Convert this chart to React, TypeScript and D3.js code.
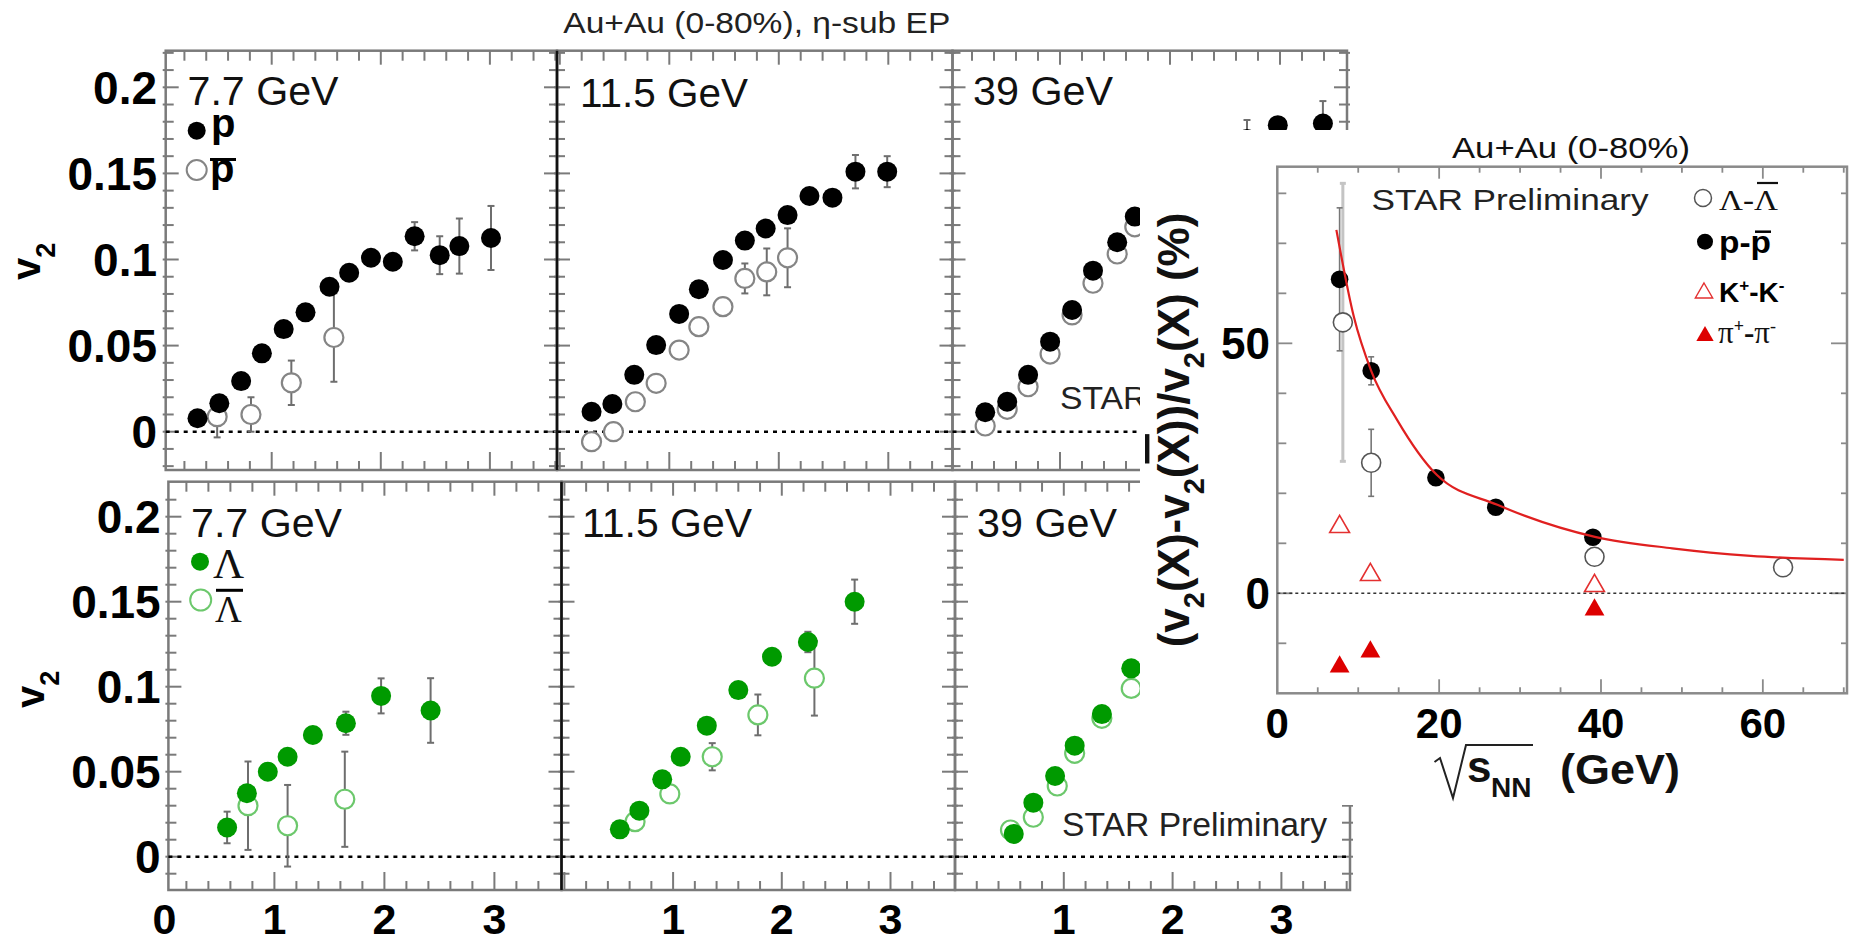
import React from "react";
import * as d3 from "d3";

// ---------------- DATA ----------------
// v2 vs pT, each entry [pT (GeV/c), v2, error]
const pFilled77 = [[0.32,0.0078,0.002],[0.52,0.0165,0.002],[0.72,0.0294,0.002],[0.91,0.0455,0.002],[1.11,0.0596,0.002],[1.31,0.0693,0.002],[1.53,0.0842,0.003],[1.71,0.0923,0.003],[1.91,0.101,0.003],[2.11,0.0987,0.003],[2.31,0.1135,0.0082],[2.54,0.1025,0.011],[2.72,0.1078,0.016],[3.01,0.1125,0.0186]];
const pOpen77 = [[0.5,0.0087,0.012],[0.81,0.0100,0.010],[1.18,0.0284,0.0129],[1.57,0.0547,0.0257]];
const pFilled115 = [[0.29,0.0116,0.002],[0.48,0.0161,0.002],[0.68,0.033,0.002],[0.88,0.0503,0.002],[1.09,0.0684,0.002],[1.27,0.0827,0.002],[1.49,0.0997,0.003],[1.69,0.111,0.003],[1.88,0.118,0.003],[2.08,0.1258,0.003],[2.28,0.1369,0.003],[2.49,0.1359,0.004],[2.7,0.151,0.0097],[2.99,0.151,0.009]];
const pOpen115 = [[0.29,-0.0058,0.004],[0.49,0.0,0.003],[0.69,0.0174,0.003],[0.88,0.0281,0.003],[1.09,0.0474,0.003],[1.27,0.061,0.004],[1.49,0.0726,0.004],[1.69,0.089,0.0087],[1.89,0.0928,0.0136],[2.08,0.101,0.0171]];
const pFilled39 = [[0.32,0.0113,0.002],[0.52,0.0174,0.002],[0.71,0.033,0.002],[0.91,0.0523,0.002],[1.11,0.0707,0.002],[1.3,0.0935,0.002],[1.52,0.11,0.003],[1.68,0.1249,0.003],[2.7,0.170,0.011],[2.98,0.178,0.003],[3.39,0.179,0.013]];
const pOpen39 = [[0.32,0.0033,0.002],[0.52,0.013,0.002],[0.71,0.0261,0.002],[0.91,0.0451,0.002],[1.11,0.0678,0.002],[1.3,0.0862,0.002],[1.52,0.1032,0.003],[1.68,0.119,0.003]];

const lamFilled77 = [[0.57,0.0172,0.0093],[0.75,0.0373,0.004],[0.94,0.05,0.003],[1.12,0.0588,0.003],[1.35,0.0716,0.003],[1.65,0.0785,0.0068],[1.97,0.0946,0.0103],[2.42,0.086,0.019]];
const lamOpen77 = [[0.76,0.030,0.026],[1.12,0.0182,0.024],[1.64,0.0338,0.028]];
const lamFilled115 = [[0.51,0.0161,0.002],[0.69,0.0271,0.003],[0.9,0.0455,0.003],[1.07,0.0588,0.003],[1.31,0.0771,0.003],[1.6,0.098,0.003],[1.91,0.1176,0.003],[2.24,0.1263,0.006],[2.67,0.150,0.013]];
const lamOpen115 = [[0.65,0.0206,0.004],[0.97,0.0369,0.004],[1.36,0.0588,0.008],[1.78,0.0834,0.012],[2.3,0.105,0.022]];
const lamFilled39 = [[0.54,0.0134,0.002],[0.72,0.0318,0.002],[0.92,0.0475,0.002],[1.1,0.0653,0.002],[1.35,0.0839,0.002],[1.62,0.1108,0.003]];
const lamOpen39 = [[0.51,0.0157,0.002],[0.72,0.0232,0.002],[0.94,0.0416,0.002],[1.1,0.0608,0.002],[1.35,0.0814,0.002],[1.62,0.099,0.003]];

const energyLabels = ["7.7 GeV", "11.5 GeV", "39 GeV"];
const v2TickLabels = [0, 0.05, 0.1, 0.15, 0.2];
const ptTickLabels = [0, 1, 2, 3];

// inset: relative difference (%) vs sqrt(sNN), [energy, value, error]
const diffLambda = [[8.1,54.2,27.8],[11.6,26.1,6.7],[39.2,7.3,1.5],[62.5,5.2,1.0]];
const diffProton = [[7.7,62.8,14.3],[11.6,44.5,2.8],[19.6,23.1,1.0],[27,17.2,1.0],[39,11.2,1.0]];
const diffKaon = [[7.7,13.3],[11.5,3.7],[39.2,1.5]];
const diffPion = [[7.7,-14.7],[11.5,-11.7],[39.2,-3.3]];
const fitCurve = [[7.3,72.7],[9.46,55.3],[11.6,44.5],[14.8,34.7],[19.7,23.7],[27.2,17.7],[39.25,11.3],[48.8,9.0],[58.5,7.5],[70,6.7]];
const insetXTicks = [0, 20, 40, 60];
const insetYTicks = [0, 50];

// ---------------- LAYOUT ----------------
const SANS = "'Liberation Sans', Arial, Helvetica, sans-serif";
const SERIF = "'Liberation Serif', 'Times New Roman', serif";
const FRAME = "#7a7a7a";
const ERR = "#6e6e6e";

const rows = [
  { T: 50.7, B: 470, y0: 431.7, ky: 1722, tickEnd: 157, labelBase: [105, 106.5, 105], titleY: 280, titleX: 40 },
  { T: 481.7, B: 890, y0: 856.7, ky: 1700, tickEnd: 160.7, labelBase: [536.7, 536.7, 536.7], titleY: 708, titleX: 44 },
];
const panelsX = [
  [ { x0: 162.6, k: 109.1, L: 165.7, R: 557, lx: 187.5, lw: 151 }, { x0: 559.8, k: 109.5, L: 557, R: 952.5, lx: 580, lw: 168 }, { x0: 950, k: 110, L: 952.5, R: 1347, lx: 973, lw: 140 } ],
  [ { x0: 164.4, k: 110, L: 168.4, R: 561.5, lx: 191, lw: 151 }, { x0: 564.4, k: 108.7, L: 561.5, R: 955, lx: 582, lw: 170 }, { x0: 955, k: 108.8, L: 955, R: 1350, lx: 977, lw: 140 } ],
];

function ErrBar({ x, y1, y2, color = ERR, w = 2, cap = 3.5 }: any) {
  return (
    <g stroke={color} strokeWidth={w}>
      <line x1={x} x2={x} y1={y1} y2={y2} />
      <line x1={x - cap} x2={x + cap} y1={y1} y2={y1} />
      <line x1={x - cap} x2={x + cap} y1={y2} y2={y2} />
    </g>
  );
}

function Panel({ row, col, filled, open, species }: any) {
  const r = rows[row];
  const p = panelsX[row][col];
  const x = d3.scaleLinear().domain([0, 1]).range([p.x0, p.x0 + p.k]);
  const y = d3.scaleLinear().domain([0, 1]).range([r.y0, r.y0 - r.ky]);
  const xt = d3.range(0, 19).map((i) => +(i * 0.2).toFixed(1)).filter((v) => x(v) > p.L + 1.5 && x(v) < p.R - 1.5);
  const yt = d3.range(-2, 23).map((i) => i / 100).filter((v) => y(v) < r.B - 1.5 && y(v) > r.T + 1.5);
  const isMajX = (v: number) => Math.abs(v - Math.round(v)) < 1e-6;
  const isMajY = (v: number) => Math.round(v * 100) % 5 === 0;
  const fillC = species === "p" ? "#000" : "#009a00";
  const openC = species === "p" ? "#858585" : "#6cc86c";
  return (
    <g>
      <rect x={p.L} y={r.T} width={p.R - p.L} height={r.B - r.T} fill="none" stroke={FRAME} strokeWidth={2.5} />
      <g stroke={FRAME} strokeWidth={2}>
        {xt.map((v, i) => (
          <g key={"x" + i}>
            <line x1={x(v)} x2={x(v)} y1={r.T} y2={r.T + (isMajX(v) ? 14 : 10)} />
            <line x1={x(v)} x2={x(v)} y1={r.B} y2={r.B - (isMajX(v) ? 18 : 9)} />
          </g>
        ))}
        {yt.map((v, i) => (
          <g key={"y" + i}>
            <line x1={p.L - 3} x2={p.L + (isMajY(v) ? 13 : 8)} y1={y(v)} y2={y(v)} />
            <line x1={p.R + 3} x2={p.R - (isMajY(v) ? 13 : 8)} y1={y(v)} y2={y(v)} />
          </g>
        ))}
      </g>
      <line x1={p.L} x2={p.R} y1={y(0)} y2={y(0)} stroke="#000" strokeWidth={2.5} strokeDasharray="4 5" />
      {open.map((d: number[], i: number) => (
        <ErrBar key={"oe" + i} x={x(d[0])} y1={y(d[1] - d[2])} y2={y(d[1] + d[2])} />
      ))}
      {filled.map((d: number[], i: number) => (
        <ErrBar key={"fe" + i} x={x(d[0])} y1={y(d[1] - d[2])} y2={y(d[1] + d[2])} />
      ))}
      {open.map((d: number[], i: number) => (
        <circle key={"o" + i} cx={x(d[0])} cy={y(d[1])} r={9.5} fill="#fff" stroke={openC} strokeWidth={2.2} />
      ))}
      {filled.map((d: number[], i: number) => (
        <circle key={"f" + i} cx={x(d[0])} cy={y(d[1])} r={10} fill={fillC} />
      ))}
      <text x={p.lx} y={r.labelBase[col]} fontFamily={SANS} fontSize={40} fill="#111" textLength={p.lw} lengthAdjust="spacingAndGlyphs">
        {energyLabels[col]}
      </text>
      {col === 0 &&
        v2TickLabels.map((v, i) => (
          <text key={"yl" + i} x={r.tickEnd} y={y(v)} dy="0.36em" textAnchor="end" fontFamily={SANS} fontWeight="bold" fontSize={46} fill="#000">
            {String(v)}
          </text>
        ))}
      {row === 1 &&
        ptTickLabels
          .filter((v) => col === 0 || v > 0)
          .map((v, i) => (
            <text key={"xl" + i} x={x(v)} y={934} textAnchor="middle" fontFamily={SANS} fontWeight="bold" fontSize={43} fill="#000">
              {String(v)}
            </text>
          ))}
    </g>
  );
}

function V2Title({ x, y }: any) {
  return (
    <text transform={`translate(${x},${y}) rotate(-90)`} fontFamily={SANS} fontWeight="bold" fontSize={40} fill="#000">
      v<tspan dy={15} fontSize={27}>2</tspan>
    </text>
  );
}

function Inset() {
  const X0 = 1277.3, X1 = 1847, Y0 = 166.7, Y1 = 693.3;
  const ix = d3.scaleLinear().domain([0, 70.4]).range([X0, X1]);
  const iy = d3.scaleLinear().domain([-20, 85.33]).range([Y1, Y0]);
  const xt = d3.range(5, 71, 5).filter((v) => ix(v) < X1 - 2);
  const yt = d3.range(-10, 86, 10);
  const tri = d3.symbol(d3.symbolTriangle, 170)()!;
  const curve = d3.line().x((d: any) => ix(d[0])).y((d: any) => iy(d[1])).curve(d3.curveMonotoneX)(fitCurve as any)!;
  return (
    <g>
      <rect x={1140} y={130} width={716} height={675} fill="#fff" />
      <text x={1452} y={158.3} fontFamily={SANS} fontSize={30} fill="#111" textLength={238} lengthAdjust="spacingAndGlyphs">Au+Au (0-80%)</text>
      <rect x={X0} y={Y0} width={X1 - X0} height={Y1 - Y0} fill="none" stroke="#8a8a8a" strokeWidth={2.5} />
      <g stroke="#8a8a8a" strokeWidth={1.8}>
        {xt.map((v, i) => (
          <g key={"ixt" + i}>
            <line x1={ix(v)} x2={ix(v)} y1={Y0} y2={Y0 + (v % 20 === 0 ? 12 : 6)} />
            <line x1={ix(v)} x2={ix(v)} y1={Y1} y2={Y1 - (v % 20 === 0 ? 14 : 6)} />
          </g>
        ))}
        {yt.map((v, i) => (
          <g key={"iyt" + i}>
            <line x1={X0} x2={X0 + (v % 50 === 0 ? 15 : 9)} y1={iy(v)} y2={iy(v)} />
            <line x1={X1} x2={X1 - (v % 50 === 0 ? 16 : 6)} y1={iy(v)} y2={iy(v)} />
          </g>
        ))}
      </g>
      <line x1={X0} x2={X1} y1={iy(0)} y2={iy(0)} stroke="#333" strokeWidth={1.6} strokeDasharray="3 3" />
      {insetXTicks.map((v, i) => (
        <text key={"ixl" + i} x={ix(v)} y={738} textAnchor="middle" fontFamily={SANS} fontWeight="bold" fontSize={42} fill="#000">{v}</text>
      ))}
      {insetYTicks.map((v, i) => (
        <text key={"iyl" + i} x={1270} y={iy(v)} dy="0.36em" textAnchor="end" fontFamily={SANS} fontWeight="bold" fontSize={44} fill="#000">{v}</text>
      ))}
      {/* x title */}
      <path d="M1434.5,762 L1440,758 L1453,798 L1466,745 L1533,745" fill="none" stroke="#222" strokeWidth={2} />
      <text x={1467} y={782} fontFamily={SANS} fontWeight="bold" fontSize={44} fill="#111">s</text>
      <text x={1491} y={797} fontFamily={SANS} fontWeight="bold" fontSize={28} fill="#111">NN</text>
      <text x={1560} y={784} fontFamily={SANS} fontWeight="bold" fontSize={43} fill="#111" textLength={120} lengthAdjust="spacingAndGlyphs">(GeV)</text>
      {/* y title */}
      <text transform="translate(1189,430) rotate(-90)" textAnchor="middle" fontFamily={SANS} fontWeight="bold" fontSize={44} fill="#111">
        (v<tspan dy={15} fontSize={29}>2</tspan><tspan dy={-15}>(X)-v</tspan><tspan dy={15} fontSize={29}>2</tspan><tspan dy={-15}>(</tspan><tspan textDecoration="overline" style={{ textDecoration: "overline" }}>X</tspan><tspan>))/v</tspan><tspan dy={15} fontSize={29}>2</tspan><tspan dy={-15}>(X) (%)</tspan>
      </text>
      <text x={1371.6} y={210} fontFamily={SANS} fontSize={30} fill="#222" textLength={277} lengthAdjust="spacingAndGlyphs">STAR Preliminary</text>
      {/* error bars */}
      <ErrBar x={ix(diffLambda[0][0])} y1={iy(diffLambda[0][1] - diffLambda[0][2])} y2={iy(diffLambda[0][1] + diffLambda[0][2])} color="#c4c4c4" w={3} cap={3} />
      {diffLambda.slice(1).map((d, i) => (
        <ErrBar key={"le" + i} x={ix(d[0])} y1={iy(d[1] - d[2])} y2={iy(d[1] + d[2])} color="#777" w={1.6} cap={3} />
      ))}
      {diffProton.map((d, i) => (
        <ErrBar key={"pe" + i} x={ix(d[0])} y1={iy(d[1] - d[2])} y2={iy(d[1] + d[2])} color="#777" w={1.6} cap={3} />
      ))}
      {diffLambda.map((d, i) => (
        <circle key={"lm" + i} cx={ix(d[0])} cy={iy(d[1])} r={9.5} fill="#fff" stroke="#555" strokeWidth={1.6} />
      ))}
      {diffProton.map((d, i) => (
        <circle key={"pm" + i} cx={ix(d[0])} cy={iy(d[1])} r={8.8} fill="#000" />
      ))}
      {diffKaon.map((d, i) => (
        <path key={"km" + i} d={tri} transform={`translate(${ix(d[0])},${iy(d[1])})`} fill="#fff" stroke="#e43030" strokeWidth={1.6} />
      ))}
      {diffPion.map((d, i) => (
        <path key={"pim" + i} d={tri} transform={`translate(${ix(d[0])},${iy(d[1])})`} fill="#dd0000" />
      ))}
      <path d={curve} fill="none" stroke="#e02020" strokeWidth={2.2} />
      {/* legend */}
      <circle cx={1703} cy={198} r={8.5} fill="#fff" stroke="#555" strokeWidth={1.5} />
      <text x={1719} y={210} fontFamily={SERIF} fontSize={30} fill="#111" textLength={59} lengthAdjust="spacingAndGlyphs">Λ-Λ</text>
      <line x1={1757} x2={1778} y1={183} y2={183} stroke="#111" strokeWidth={2.2} />
      <circle cx={1705} cy={241.7} r={8} fill="#000" />
      <text x={1719} y={253} fontFamily={SANS} fontWeight="bold" fontSize={31} fill="#000" textLength={52} lengthAdjust="spacingAndGlyphs">p-p</text>
      <line x1={1755} x2={1771} y1={231.7} y2={231.7} stroke="#000" strokeWidth={2.5} />
      <path d={d3.symbol(d3.symbolTriangle, 130)()!} transform="translate(1704,293)" fill="#fff" stroke="#e43030" strokeWidth={1.4} />
      <text x={1719} y={301.7} fontFamily={SANS} fontWeight="bold" fontSize={28} fill="#000">
        K<tspan dy={-11} fontSize={17}>+</tspan><tspan dy={11}>-K</tspan><tspan dy={-11} fontSize={17}>-</tspan>
      </text>
      <path d={d3.symbol(d3.symbolTriangle, 130)()!} transform="translate(1705,336)" fill="#dd0000" />
      <text x={1718} y={343} fontFamily={SERIF} fontSize={31} fill="#111">
        π<tspan dy={-11} fontSize={18} fontWeight="bold">+</tspan><tspan dy={11} fontWeight="bold">-</tspan>π<tspan dy={-11} fontSize={18}>-</tspan>
      </text>
    </g>
  );
}

export default function App() {
  return (
    <svg width={1856} height={943} viewBox="0 0 1856 943" style={{ position: "absolute", left: 0, top: 0, background: "#fff" }}>
      <rect x={0} y={0} width={1856} height={943} fill="#fff" />
      <text x={563.3} y={33.3} fontFamily={SANS} fontSize={30} fill="#222" textLength={387} lengthAdjust="spacingAndGlyphs">Au+Au (0-80%), η-sub EP</text>
      <Panel row={0} col={0} filled={pFilled77} open={pOpen77} species="p" />
      <Panel row={0} col={1} filled={pFilled115} open={pOpen115} species="p" />
      <Panel row={0} col={2} filled={pFilled39} open={pOpen39} species="p" />
      <Panel row={1} col={0} filled={lamFilled77} open={lamOpen77} species="L" />
      <Panel row={1} col={1} filled={lamFilled115} open={lamOpen115} species="L" />
      <Panel row={1} col={2} filled={lamFilled39} open={lamOpen39} species="L" />
      <line x1={557} x2={557} y1={50.7} y2={470} stroke="#111" strokeWidth={2.5} />
      <line x1={561.5} x2={561.5} y1={481.7} y2={890} stroke="#111" strokeWidth={2.5} />
      <V2Title x={rows[0].titleX} y={rows[0].titleY} />
      <V2Title x={rows[1].titleX} y={rows[1].titleY} />
      {/* legends */}
      <circle cx={196.7} cy={130.7} r={9} fill="#000" />
      <text x={211} y={136.7} fontFamily={SANS} fontWeight="bold" fontSize={40} fill="#000">p</text>
      <circle cx={196.7} cy={170} r={10} fill="#fff" stroke="#858585" strokeWidth={2} />
      <text x={210} y={181.7} fontFamily={SANS} fontWeight="bold" fontSize={40} fill="#000">p</text>
      <line x1={210} x2={236} y1={159.5} y2={159.5} stroke="#000" strokeWidth={3} />
      <circle cx={200} cy={561.7} r={9} fill="#009a00" />
      <text x={213} y={578} fontFamily={SERIF} fontSize={43} fill="#111">Λ</text>
      <circle cx={200.7} cy={600} r={10.5} fill="#fff" stroke="#6cc86c" strokeWidth={2} />
      <text x={215} y={621.7} fontFamily={SERIF} fontSize={37} fill="#111">Λ</text>
      <line x1={216} x2={243} y1={590.3} y2={590.3} stroke="#000" strokeWidth={3} />
      <text x={1060} y={409.3} fontFamily={SANS} fontSize={31} fill="#222" textLength={265} lengthAdjust="spacingAndGlyphs">STAR Preliminary</text>
      <text x={1062} y={836} fontFamily={SANS} fontSize={33} fill="#222" textLength={265} lengthAdjust="spacingAndGlyphs">STAR Preliminary</text>
      <Inset />
    </svg>
  );
}
